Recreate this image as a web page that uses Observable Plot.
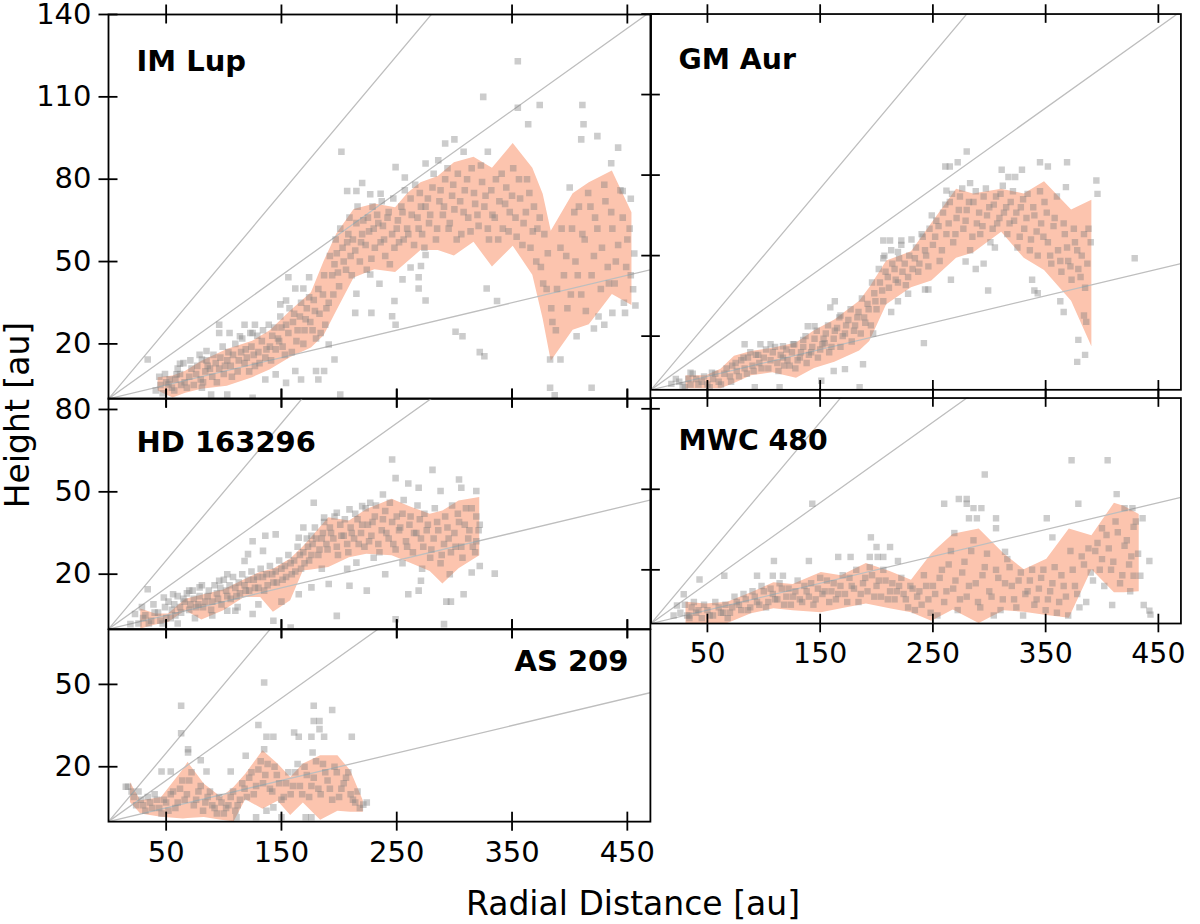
<!DOCTYPE html>
<html><head><meta charset="utf-8">
<script src="https://cdn.jsdelivr.net/npm/d3@7"></script>
<script src="https://cdn.jsdelivr.net/npm/@observablehq/plot@0.6"></script>
<style>
html,body{margin:0;padding:0;background:#fff;}
#fig{position:relative;width:1200px;height:924px;overflow:hidden;font-family:"DejaVu Sans";}
.panel{position:absolute;}
</style></head><body><div id="fig"></div>
<script>
// ---------- data ----------
const xTicks = [50,150,250,350,450];
const slopes = [0.1,0.3,0.5];
const names = ["IM Lup","GM Aur","HD 163296","MWC 480","AS 209"];
const yMaxes = [140,140,84,84,70];
const yTicksTop = [20,50,80,110,140];
const yTicksMid = [20,50,80];
const yTicksBot = [20,50];

const imlupR  = [43,56,67,81,103,125,140,158,176,187,198,213,231,249,260,271,286,300,317,333,351,368,377,384,403,417,437,454];
const imlupHi = [7.7,8.3,10,13.7,18,21,24.7,32,38.6,50,60,69,71,69.6,75,78.7,81,86,88,84,93,84,74.5,61,74.7,78.7,83,67.8];
const imlupLo = [2.8,0.3,2,3.5,4.6,7.7,10.5,15,18.5,23,32,44,47,46,50,54,54,52,57,48,55.6,45,29,13.7,25,27,38,34];

const gmaurR  = [31,49,62,74,89,108,129,145,163,185,194,209,231,249,271,286,311,331,349,373,391];
const gmaurHi = [5.2,5.2,7.7,12.5,14.3,15.5,17.4,22,26,33,38,48,51.4,62,74.7,73,74.7,73,77.5,67,70.6];
const gmaurLo = [0.4,0.4,0.4,2.4,5.2,6.4,4.3,7.9,10.3,14.5,18,31.7,38,40.5,49,51,58.7,49,44.5,33,16];

const hdR  = [28,41,52,67,81,100,118,132,143,158,169,176,191,209,224,246,262,279,290,304,322];
const hdHi = [7.3,5.5,5.5,10.9,12.3,14.2,18,20.7,21.8,25.5,30,33.3,40.6,39.4,43.6,47.3,44.5,41.8,43,46.7,47.9];
const hdLo = [0,1.5,2.4,6.7,3.3,6.7,11.5,11.5,6.1,10.3,21.2,21.5,22.4,26,27.3,26.7,24,21,16.4,22,26.7];

const mwcR  = [31,49,68,89,109,126,151,169,191,212,231,249,268,291,313,331,351,371,391,411,420,433];
const mwcHi = [7.9,7.3,7.9,11.5,15.2,14.5,19,17.8,22.4,19.4,16.1,26,33.3,35.2,26,20,23.9,35.2,32.7,44.8,43.6,40.6];
const mwcLo = [0,0,0,3.6,5.5,4.8,4,5.5,7.3,5.5,4,0.8,5,0,4.8,4.2,3,2,20,11.5,11.5,11.8];

const asR  = [19,28,46,65,69,83,98,109,119,134,147,158,169,184,199,210,221];
const asHi = [14.3,7.6,8.8,19,21.6,13.7,8.8,12.5,17.3,25.8,21,16.1,21,24,24,18.5,7.6];
const asLo = [7,2.8,1.6,1,1.1,1.5,0.5,0,8,4.5,7.4,2.2,6.8,0.5,3.8,3.4,3.4];

const imlupPts = [[355,123],[325,110],[355,106],[374,107],[364,100],[411,107],[412,100],[410,94.5],[424,95.7],[442,91.5],[436,85.8],[292,93],[300,94.5],[308,90],[329,90],[202,90],[249,84.4],[257,80.6],[275,85.7],[286,86.9],[220,78.6],[207,75.7],[215,75.7],[227,74.5],[236,74.7],[446,75.7],[453,72.9],[400,77],[456,52.9],[455,39.9],[448,31.3],[437,31.3],[457,34],[430,27],[421,25.6],[406,22.8],[383,14.3],[392,14.3],[383,4],[387,1.3],[419,4],[322,17],[326,15.5],[301,24.4],[307,22.8],[337,35.6],[328,40.2],[275,35.8],[269,40.2],[269,44.3],[262,47.8],[271,48.4],[275,52.4],[255,43.5],[248,35.6],[246,30.1],[249,27],[228,31.3],[214,31.3],[215,38.3],[227,45.3],[235,41.9],[156,44.3],[174,44.3],[162,40.2],[169,40.2],[149,34.4],[154,35.8],[96,27],[118,27],[127,27],[96,24],[105,24],[114,22.8],[125,24],[85,17.4],[81,14.3],[34,14.3],[62,12.8],[191,19.8],[196,14.3],[187,10.1],[180,10.1],[162,10.1],[167,7],[154,5.8],[145,8.9],[136,7],[182,7],[201,1.6],[125,0.4],[103,1.6],[89,1.6],[81,4],[59,8.9],[52,5.2],
[45,5],[50,6],[55,4],[58,7],[62,9],[66,6],[70,8],[72,11],[76,9],[80,7],[84,10],[86,12],[90,8],[93,13],[96,11],[100,9],[103,14],[106,12],[108,16],[112,10],[115,17],[118,13],[120,15],[124,19],[127,12],[130,17],[133,21],[136,15],[140,19],[142,23],[145,18],[148,21],[150,26],[153,16],[156,24],[160,28],[163,21],[166,30],[170,25],[172,33],[175,28],[178,36],[180,22],[183,31],[186,38],[188,27],[191,35],[194,45],[196,49],[198,53],[200,41],[203,55],[206,47],[208,60],[210,52],[212,58],[215,64],[218,50],[220,60],[223,56],[225,66],[228,51],[230,62],[233,67],[236,57],[238,63],[240,52],[243,68],[246,60],[248,55],[251,65],[254,70],[256,58],[259,62],[262,73],[265,56],[268,66],[270,75],[272,60],[275,70],[278,64],[281,77],[284,58],[287,72],[290,67],[292,80],[295,62],[298,74],[300,69],[303,82],[306,60],[309,76],[312,66],[315,84],[318,71],[321,63],[324,79],[327,74],[330,58],[333,67],[336,80],[339,72],[342,62],[345,77],[348,68],[351,84],[354,59],[357,73],[360,64],[363,80],[366,55],[369,70],[372,62],[375,48],[378,60],[380,40],[384,33],[388,25],[392,55],[395,45],[398,33],[402,62],[405,50],[408,70],[410,38],[413,58],[416,75],[419,45],[422,66],[425,30],[428,55],[431,72],[434,42],[437,62],[440,50],[444,76],[447,35],[450,58],[453,45]];
const imlupPts2 = [[41,3],[44,8],[47,2],[49,9],[53,7],[57,3],[60,11],[63,5],[65,13],[68,4],[71,14],[74,5],[77,12],[79,16],[82,6],[85,14],[88,11],[91,16],[94,6],[97,15],[99,19],[101,12],[104,17],[107,8],[110,20],[113,14],[116,22],[119,18],[122,10],[123,24],[126,16],[129,23],[131,13],[134,25],[137,18],[139,27],[141,14],[144,26],[147,22],[149,30],[151,19],[154,27],[157,33],[159,17],[161,31],[164,25],[167,35],[169,20],[171,29],[174,37],[177,25],[179,32],[182,40],[184,24],[187,45],[189,33],[192,52],[195,38],[197,58],[199,46],[201,62],[204,50],[207,57],[209,66],[211,45],[214,54],[216,70],[219,57],[221,65],[224,47],[226,61],[229,70],[231,55],[234,64],[237,72],[239,58],[242,66],[244,49],[247,73],[250,62],[252,57],[255,68],[257,76],[260,60],[263,67],[266,78],[269,62],[271,70],[274,55],[277,73],[279,67],[282,82],[285,62],[288,76],[291,70],[294,84],[296,64],[299,78],[302,58],[305,72],[308,68],[311,80],[314,61],[317,75],[320,67],[323,85],[326,70],[329,62],[332,76],[335,66],[338,58],[341,82],[344,71],[347,61],[350,74],[353,66],[356,80],[359,56],[362,68],[365,75],[368,61],[371,50],[374,66],[377,42],[381,53],[385,28],[389,40],[393,62],[397,52],[401,38],[404,68],[407,45],[411,60],[414,32],[418,70],[421,52],[424,62],[427,40],[430,78],[433,48],[436,68],[439,42],[442,56],[446,66],[449,48],[452,62]];

const gmaurPts = [[280,88.8],[272,84.8],[261,83.2],[265,83.2],[311,82],[329,82],[345,84.8],[352,83.2],[369,84.8],[317,79.3],[323,79.3],[395,78],[396,73],[368,75.5],[429,49],[262,74.2],[283,77],[206,55.6],[212,55.6],[222,55.6],[206,49],[219,51.4],[279,47.8],[288,45],[295,47],[266,41],[299,37],[305,53],[338,41],[340,37],[343,36],[363,33],[366,29],[384,27.7],[386,25.3],[379,18.6],[385,13],[378,10.4],[242,17.4],[243,37.4],[246,37.4],[219,33],[228,35.8],[213,29],[163,33],[159,30.7],[168,27.7],[139,23.7],[145,23.7],[135,18.6],[154,17.4],[83,17],[97,17],[106,17],[117,16.2],[126,17],[162,7],[172,7.7],[185,1],[188,9.5],[197,21],[151,3.4],[114,1],[92,1],[54,6.4],[35,6.4],[22,4],[18,2.2],[28,1.6],
[35,2],[40,4],[45,3],[50,2],[55,4],[60,3],[65,6],[70,5],[72,9],[76,7],[80,11],[83,8],[86,12],[90,9],[93,13],[96,10],[100,12],[104,8],[108,14],[112,10],[115,13],[118,9],[121,11],[125,14],[128,8],[132,12],[135,16],[138,10],[142,14],[145,19],[148,12],[152,17],[155,21],[158,14],[162,19],[165,23],[168,16],[172,21],[175,26],[178,18],[181,24],[184,29],[186,21],[189,27],[192,32],[195,24],[198,36],[200,30],[203,40],[206,33],[208,44],[211,38],[214,47],[217,41],[220,49],[223,44],[226,39],[229,50],[232,45],[235,53],[238,47],[241,57],[244,50],[247,60],[250,54],[253,63],[256,48],[259,66],[262,58],[265,70],[268,55],[271,64],[274,72],[277,60],[280,67],[283,52],[286,70],[289,62],[292,58],[295,72],[298,65],[301,55],[304,69],[307,62],[310,73],[313,66],[316,58],[319,70],[322,63],[325,53],[328,68],[331,60],[334,73],[337,56],[340,65],[343,50],[346,62],[349,70],[352,55],[355,47],[358,64],[361,52],[364,44],[367,58],[370,48],[373,41],[376,55],[379,45],[382,50],[385,38],[388,60]];
const gmaurPts2 = [[25,3],[30,1],[33,4],[37,6],[42,2],[47,5],[52,1],[57,6],[62,2],[67,8],[71,3],[75,10],[78,5],[82,12],[85,6],[88,14],[91,7],[95,13],[98,8],[102,15],[106,11],[110,16],[113,7],[117,12],[120,15],[123,9],[127,17],[130,11],[133,14],[137,20],[140,13],[143,16],[147,22],[150,15],[153,19],[157,24],[160,16],[163,22],[167,27],[170,20],[173,24],[177,30],[180,22],[183,27],[187,34],[190,25],[193,30],[196,40],[199,33],[202,45],[205,37],[207,50],[210,42],[213,52],[216,45],[219,40],[222,54],[225,47],[228,42],[231,56],[234,49],[237,44],[240,58],[243,52],[246,46],[249,65],[252,57],[255,61],[258,52],[261,69],[264,62],[267,73],[270,58],[273,67],[276,75],[279,63],[282,70],[285,57],[288,74],[291,66],[294,61],[297,75],[300,68],[303,60],[306,72],[309,64],[312,76],[315,68],[318,62],[321,74],[324,66],[327,57],[330,71],[333,64],[336,52],[339,68],[342,59],[345,74],[348,57],[351,66],[354,50],[357,61],[360,72],[363,48],[366,62],[369,53],[372,46],[375,60],[378,52],[381,42],[384,58],[387,47],[390,55]];

const hdPts = [[246,61.8],[281,58],[249,55],[260,53],[269,51.5],[288,50.3],[304,54.5],[306,51.5],[319,50.3],[238,49],[227,46],[220,44.8],[209,43.6],[198,42.4],[178,46],[187,40.6],[169,37],[176,34],[165,33.3],[145,34.5],[136,34],[125,32],[134,28.5],[121,27.3],[118,24.8],[103,20],[96,17.6],[79,15.2],[70,14],[56,12.7],[48,11.5],[34,14.5],[23,5.5],[19,1.8],[103,6.7],[110,6.7],[125,5.5],[143,3],[158,0.6],[165,12.7],[176,15.2],[191,16.4],[209,15.8],[198,4.8],[224,14],[215,24.2],[249,3.6],[260,12.7],[269,14],[271,17.6],[293,10],[297,10],[308,12.7],[291,1.8],[315,20.6],[322,23],[335,20.2],[319,32],
[30,4],[35,2],[40,6],[45,3],[50,4],[55,7],[58,5],[62,8],[66,10],[70,7],[74,11],[78,9],[82,8],[86,12],[90,10],[94,13],[98,9],[102,14],[106,11],[110,15],[114,13],[118,16],[122,14],[126,18],[130,15],[134,19],[138,16],[142,20],[146,17],[150,22],[154,19],[158,24],[162,21],[166,27],[170,24],[173,30],[176,27],[180,33],[183,29],[186,35],[189,31],[192,37],[195,33],[198,30],[201,38],[204,34],[207,31],[210,37],[213,33],[216,40],[219,35],[222,30],[225,38],[228,34],[231,41],[234,31],[237,36],[240,43],[243,33],[246,39],[249,29],[252,36],[255,42],[258,32],[261,38],[264,28],[267,35],[270,40],[273,30],[276,36],[279,26],[282,33],[285,39],[288,24],[291,31],[294,37],[297,28],[300,35],[303,42],[306,30],[309,38],[312,33],[315,44],[318,28],[321,36]];
const hdPts2 = [[26,2],[29,8],[32,5],[37,3],[39,9],[43,6],[47,2],[49,8],[52,10],[54,4],[57,9],[60,12],[63,6],[65,11],[68,13],[71,9],[73,14],[76,8],[79,12],[81,16],[84,10],[87,14],[89,7],[92,16],[95,11],[97,15],[100,18],[103,12],[105,16],[108,19],[111,12],[113,17],[116,20],[119,14],[121,18],[124,21],[127,15],[129,19],[132,22],[135,14],[137,20],[140,23],[143,17],[145,21],[148,25],[151,18],[153,23],[156,27],[159,20],[161,25],[164,30],[167,22],[169,28],[172,33],[174,25],[177,31],[179,37],[182,27],[185,33],[187,39],[190,29],[193,35],[196,41],[199,27],[202,34],[205,40],[208,28],[211,35],[214,42],[217,31],[220,38],[223,44],[226,32],[229,39],[232,45],[235,28],[238,40],[241,35],[244,46],[247,31],[250,41],[253,37],[256,47],[259,30],[262,41],[265,35],[268,45],[271,33],[274,42],[277,38],[280,29],[283,44],[286,36],[289,27],[292,41],[295,33],[298,45],[301,30],[304,39],[307,26],[310,44],[313,36],[316,30],[319,41],[322,38],[207,22],[230,26],[255,24],[272,22],[296,20],[240,20],[185,22],[150,10],[130,9],[112,8],[90,5],[75,4],[60,2]];

const mwcPts = [[373,60.8],[405,60.8],[296,55.5],[143,44.6],[413,48.2],[260,44.6],[273,46.4],[280,46.4],[280,44.6],[286,43],[293,43],[379,44.6],[420,43],[427,43],[282,39.2],[289,39.2],[306,39.2],[351,39.2],[436,39.2],[306,35.5],[269,33.7],[400,35.5],[356,32.1],[195,32.1],[314,26.7],[442,23.3],[200,28.5],[212,28.5],[194,24.8],[201,24.8],[206,24.8],[166,24.8],[177,24.8],[109,23.3],[140,23.3],[219,23.3],[65,17.8],[43,16.4],[94,17.8],[108,17.8],[117,17.8],[409,6.9],[437,6.9],[442,4.8],[443,3.3],[434,17.8],[428,17.8],[29,10.9],[23,6.7],[20,3],[34,3],
[32,3],[36,6],[40,4],[45,2],[50,5],[55,3],[60,6],[64,4],[68,2],[72,6],[76,8],[80,5],[84,9],[88,6],[92,10],[96,7],[100,12],[104,8],[108,11],[112,9],[116,13],[120,10],[124,7],[128,12],[132,9],[136,14],[140,10],[144,7],[148,13],[152,11],[156,16],[160,12],[164,9],[168,14],[172,11],[176,17],[180,13],[184,8],[188,15],[192,12],[196,18],[200,14],[204,10],[208,16],[212,12],[216,9],[220,14],[224,11],[228,6],[232,13],[236,10],[240,7],[244,14],[248,4],[252,11],[256,17],[260,8],[264,22],[268,13],[272,5],[276,19],[280,10],[284,27],[288,15],[292,6],[296,21],[300,12],[304,3],[308,17],[312,9],[316,24],[320,14],[324,6],[328,19],[332,11],[336,16],[340,7],[344,13],[348,20],[352,9],[356,15],[360,4],[364,18],[368,10],[372,27],[376,14],[380,6],[384,22],[388,28],[392,16],[396,30],[400,24],[404,33],[408,20],[412,38],[416,15],[420,29],[424,22],[428,36],[432,26]];
const mwcPts2 = [[26,4],[30,7],[34,2],[38,8],[42,5],[47,7],[52,3],[57,8],[62,4],[66,7],[70,4],[74,10],[78,7],[82,11],[86,5],[90,12],[94,8],[98,14],[102,6],[106,13],[110,9],[114,15],[118,7],[122,13],[126,10],[130,16],[134,8],[138,12],[142,15],[146,9],[150,17],[154,12],[158,8],[162,15],[166,11],[170,18],[174,8],[178,14],[182,20],[186,11],[190,17],[194,21],[198,10],[202,16],[206,20],[210,9],[214,15],[218,12],[222,17],[226,9],[230,14],[234,5],[238,12],[242,18],[246,9],[250,14],[254,3],[258,20],[262,12],[266,27],[270,16],[274,9],[278,23],[282,14],[286,31],[290,8],[294,18],[298,26],[302,10],[306,20],[310,5],[314,15],[318,21],[322,9],[326,16],[330,3],[334,12],[338,20],[342,9],[346,17],[350,5],[354,12],[358,21],[362,8],[366,14],[370,3],[374,20],[378,11],[382,25],[386,8],[390,19],[394,27],[398,20],[402,14],[406,28],[410,23],[414,34],[418,18],[422,31],[426,25],[430,38],[425,12]];

const asPts = [[135,50.7],[63,42.2],[178,42.2],[194,40.7],[178,36.7],[183,36.7],[130,35.2],[183,33.7],[63,32.2],[137,30.9],[143,30.9],[161,32.5],[165,30.9],[176,30.9],[187,30.9],[211,30.9],[69,26.4],[69,25.2],[135,26.4],[177,25.2],[80,22.4],[119,24],[46,18.3],[54,18.3],[85,18.3],[106,18.3],[15,12.7],[17,12.7],[224,7],[221,6.2],[137,4],[143,5.2],[128,1.6],[171,1.6],[176,1.6],[150,1.6],[111,1.6],
[22,9],[26,11],[30,6],[34,9],[38,5],[42,8],[46,3],[50,7],[54,10],[58,5],[62,12],[66,8],[70,15],[74,6],[78,11],[82,4],[86,9],[90,6],[94,3],[98,7],[102,5],[106,9],[110,4],[114,8],[118,12],[122,16],[126,10],[130,19],[134,14],[138,21],[142,11],[146,17],[150,8],[154,14],[158,10],[162,18],[166,13],[170,20],[174,9],[178,16],[182,12],[186,21],[190,15],[194,8],[198,18],[202,12],[206,16],[210,10],[214,7],[218,5]];
const asPts2 = [[20,11],[24,6],[28,8],[32,4],[36,7],[40,10],[44,5],[48,8],[52,4],[56,11],[60,7],[64,15],[68,10],[72,18],[76,8],[80,13],[84,7],[88,11],[92,5],[96,9],[100,3],[104,6],[108,11],[112,6],[116,14],[120,9],[124,18],[128,13],[132,22],[136,17],[140,12],[144,20],[148,14],[152,9],[156,18],[160,13],[164,21],[168,10],[172,17],[176,13],[180,22],[184,10],[188,18],[192,12],[196,20],[200,9],[204,14],[208,18],[212,8],[216,11]];

// ---------- layout ----------
const XMAX = 470, KX = 1.153, KY = 2.745;
const panels = [
  {name: names[0], R: imlupR, lo: imlupLo, hi: imlupHi, pts: imlupPts.concat(imlupPts2), ymax: yMaxes[0], yt: yTicksTop, left: 108.4, top: 13.6, ylab: true,  xlab: false, lab: {anchor: "top-left", dx: 28, dy: 35.5}},
  {name: names[1], R: gmaurR, lo: gmaurLo, hi: gmaurHi, pts: gmaurPts.concat(gmaurPts2), ymax: yMaxes[1], yt: yTicksTop, left: 651,   top: 13.6, ylab: false, xlab: false, lab: {anchor: "top-left", dx: 28, dy: 35.5}},
  {name: names[2], R: hdR, lo: hdLo, hi: hdHi, pts: hdPts.concat(hdPts2), ymax: yMaxes[2], yt: yTicksMid, left: 108.4, top: 397.9, ylab: true, xlab: false, lab: {anchor: "top-left", dx: 28, dy: 32.5}},
  {name: names[3], R: mwcR, lo: mwcLo, hi: mwcHi, pts: mwcPts.concat(mwcPts2), ymax: yMaxes[3], yt: yTicksMid, left: 651, top: 397.9, ylab: false, xlab: true, lab: {anchor: "top-left", dx: 28, dy: 32.5}},
  {name: names[4], R: asR, lo: asLo, hi: asHi, pts: asPts.concat(asPts2), ymax: yMaxes[4], yt: yTicksBot, left: 108.4, top: 628.5, ylab: true, xlab: true, lab: {anchor: "top-right", dx: -22, dy: 21}}
];

const fig = document.getElementById("fig");
const hx = 9.5 / KX;
const MT = 20, MR = 20, MB = 60;

for (const p of panels) {
  const ML = p.ylab ? 110 : 20;
  const W = XMAX * KX, H = p.ymax * KY;
  const hy = 9.5 / KY;
  const band = p.R.map((r, i) => ({r, lo: p.lo[i], hi: p.hi[i]}));
  const lines = slopes.flatMap(s => [{s, x: 0, y: 0}, {s, x: XMAX, y: s * XMAX}]);
  const marks = [
    Plot.areaY(band, {x: "r", y1: "lo", y2: "hi", fill: "#fcc4ae", clip: true}),
    Plot.line(lines, {x: "x", y: "y", z: "s", stroke: "#bebebe", strokeWidth: 1.3, clip: true}),
    Plot.dot(p.pts, {x: d => d[0], y: d => d[1], symbol: "square", r: 3.7, fill: "#7f7f7f", fillOpacity: 0.4, stroke: "none", clip: true}),
    Plot.frame({stroke: "#000", strokeWidth: 1.8}),
    Plot.ruleX(xTicks, {x: d => d, y1: -hy, y2: hy, stroke: "#000", strokeWidth: 1.8}),
    Plot.ruleX(xTicks, {x: d => d, y1: p.ymax - hy, y2: p.ymax + hy, stroke: "#000", strokeWidth: 1.8}),
    Plot.ruleY(p.yt, {y: d => d, x1: -hx, x2: hx, stroke: "#000", strokeWidth: 1.8}),
    Plot.text([p.name], {text: d => d, frameAnchor: p.lab.anchor, dx: p.lab.dx, dy: p.lab.dy, textAnchor: p.lab.anchor === "top-left" ? "start" : "end", lineAnchor: "top", fontSize: 29, fontWeight: "bold", fill: "#000"})
  ];
  if (p.ylab) marks.push(Plot.axisY({ticks: p.yt, anchor: "left", tickSize: 0, tickPadding: 17, label: null, fontSize: 29}));
  if (p.xlab) marks.push(Plot.axisX({ticks: xTicks, anchor: "bottom", tickSize: 0, tickPadding: 20, label: null, fontSize: 29}));
  const chart = Plot.plot({
    width: ML + W + MR,
    height: MT + H + MB,
    marginLeft: ML, marginRight: MR, marginTop: MT, marginBottom: MB,
    x: {domain: [0, XMAX], ...(p.xlab ? {} : {axis: null})},
    y: {domain: [0, p.ymax], ...(p.ylab ? {} : {axis: null})},
    style: {background: "transparent", overflow: "visible", fontFamily: "DejaVu Sans", fontSize: "29px", color: "#000"},
    marks
  });
  const div = document.createElement("div");
  div.className = "panel";
  div.style.left = (p.left - ML) + "px";
  div.style.top = (p.top - MT) + "px";
  div.appendChild(chart);
  fig.appendChild(div);
}

const svg = d3.select("#fig").append("svg")
  .attr("width", 1200).attr("height", 924)
  .style("position", "absolute").style("left", "0px").style("top", "0px")
  .style("pointer-events", "none");
svg.append("text").attr("x", 633).attr("y", 915).attr("text-anchor", "middle")
  .attr("font-family", "DejaVu Sans").attr("font-size", 33).attr("fill", "#000")
  .text("Radial Distance [au]");
svg.append("text").attr("transform", "translate(29,415) rotate(-90)").attr("text-anchor", "middle")
  .attr("font-family", "DejaVu Sans").attr("font-size", 33).attr("fill", "#000")
  .text("Height [au]");
</script></body></html>
